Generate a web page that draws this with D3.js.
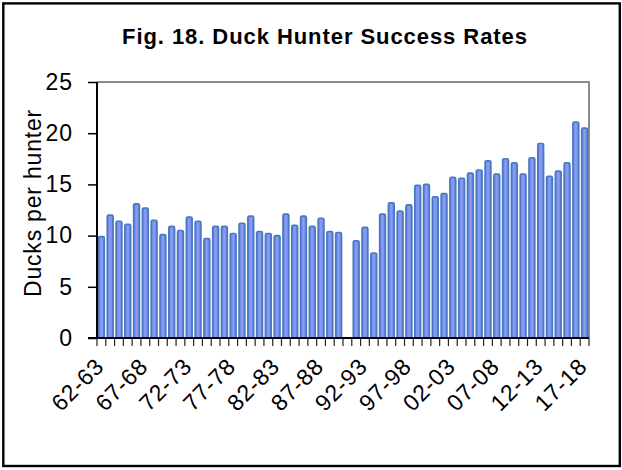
<!DOCTYPE html>
<html>
<head>
<meta charset="utf-8">
<script src="https://cdn.jsdelivr.net/npm/d3@7"></script>
<style>
  html, body { margin: 0; padding: 0; background: #fff; }
  svg { display: block; font-family: Arial, "Liberation Sans", sans-serif; }
</style>
</head>
<body>
<svg id="chart" width="622" height="470"></svg>
<script>
// Duck hunter success rates by season (ducks per hunter); 90-91 has no data.
const seasons = [
  "62-63","63-64","64-65","65-66","66-67","67-68","68-69","69-70","70-71","71-72",
  "72-73","73-74","74-75","75-76","76-77","77-78","78-79","79-80","80-81","81-82",
  "82-83","83-84","84-85","85-86","86-87","87-88","88-89","89-90","90-91","91-92",
  "92-93","93-94","94-95","95-96","96-97","97-98","98-99","99-00","00-01","01-02",
  "02-03","03-04","04-05","05-06","06-07","07-08","08-09","09-10","10-11","11-12",
  "12-13","13-14","14-15","15-16","16-17","17-18"
];
const ducksPerHunter = [
  9.9, 12.0, 11.4, 11.1, 13.1, 12.7, 11.5, 10.1, 10.9, 10.5,
  11.8, 11.4, 9.7, 10.9, 10.9, 10.2, 11.2, 11.9, 10.4, 10.2,
  10.0, 12.1, 11.0, 11.9, 10.9, 11.7, 10.4, 10.3, null, 9.5,
  10.8, 8.3, 12.1, 13.2, 12.4, 13.0, 14.9, 15.0, 13.8, 14.1,
  15.7, 15.6, 16.1, 16.4, 17.3, 16.0, 17.5, 17.1, 16.0, 17.6,
  19.0, 15.8, 16.3, 17.1, 21.1, 20.5
];
const yTicks = [0, 5, 10, 15, 20, 25];
const labelEvery = 5;

const svg = d3.select("#chart");
const plot = { left: 97, right: 589, top: 82, bottom: 338 };

// Frame around the whole figure
svg.append("rect")
  .attr("x", 3.3).attr("y", 3.4).attr("width", 616.5).attr("height", 462.6)
  .attr("fill", "none").attr("stroke", "#000").attr("stroke-width", 2.4);

svg.append("text")
  .attr("x", 324.5).attr("y", 44)
  .attr("text-anchor", "middle")
  .attr("font-size", 22).attr("font-weight", "bold")
  .attr("textLength", 405).attr("lengthAdjust", "spacing")
  .text("Fig. 18. Duck Hunter Success Rates");

const x = d3.scaleBand().domain(seasons)
  .range([plot.left, plot.right]).paddingInner(0.2).paddingOuter(0.1);
const y = d3.scaleLinear().domain([0, 25]).range([plot.bottom, plot.top]);

// Bar shading: darker edges, lighter centre
const defs = svg.append("defs");
const grad = defs.append("linearGradient").attr("id", "barFill")
  .attr("x1", "0%").attr("x2", "100%").attr("y1", "0%").attr("y2", "0%");
grad.append("stop").attr("offset", "0%").attr("stop-color", "#5f7fdc");
grad.append("stop").attr("offset", "50%").attr("stop-color", "#8d9ff8");
grad.append("stop").attr("offset", "100%").attr("stop-color", "#5f7fdc");

// Plot-area outline (top and right in grey)
svg.append("path")
  .attr("d", `M${plot.left},${plot.top}H${plot.right}V${plot.bottom}`)
  .attr("fill", "none").attr("stroke", "#8c8c8c").attr("stroke-width", 2);

const data = seasons.map((s, i) => ({ season: s, value: ducksPerHunter[i] }))
  .filter(d => d.value != null);

svg.append("g").selectAll("rect").data(data).join("rect")
  .attr("x", d => x(d.season) + 0.6)
  .attr("y", d => y(d.value))
  .attr("width", x.bandwidth() - 1.2)
  .attr("height", d => y(0) - y(d.value))
  .attr("rx", 1.5)
  .attr("fill", "url(#barFill)")
  .attr("stroke", "#4878bd").attr("stroke-width", 1.6);

// Y axis
const yAxis = svg.append("g")
  .attr("transform", `translate(${plot.left},0)`)
  .call(d3.axisLeft(y).tickValues(yTicks).tickSize(9).tickPadding(15))
  .call(g => g.select(".domain").attr("stroke", "#000").attr("stroke-width", 2)
    .attr("d", `M0,${plot.top}V${plot.bottom}`));
yAxis.selectAll(".tick line").attr("stroke", "#000").attr("stroke-width", 1.5);
yAxis.selectAll(".tick text")
  .attr("font-size", 23).attr("letter-spacing", "1px")
  .attr("font-family", "Arial, 'Liberation Sans', sans-serif")
  .attr("fill", "#000");

// X axis: tick marks at category boundaries
const boundaries = d3.range(seasons.length + 1)
  .map(i => plot.left + i * (plot.right - plot.left) / seasons.length);
const xg = svg.append("g");
xg.append("line")
  .attr("x1", plot.left - 9).attr("x2", plot.right)
  .attr("y1", plot.bottom).attr("y2", plot.bottom)
  .attr("stroke", "#000").attr("stroke-width", 2);
xg.selectAll("line.tk").data(boundaries).join("line").attr("class", "tk")
  .attr("x1", d => d).attr("x2", d => d)
  .attr("y1", plot.bottom).attr("y2", plot.bottom + 8)
  .attr("stroke", "#222").attr("stroke-width", 1.2);

xg.selectAll("text").data(seasons.filter((s, i) => i % labelEvery === 0)).join("text")
  .attr("transform", d => `translate(${x(d) + x.bandwidth() / 2 + 4},368) rotate(-45)`)
  .attr("text-anchor", "end")
  .attr("font-size", 23).attr("letter-spacing", "0.8px")
  .attr("fill", "#000")
  .text(d => d);

svg.append("text")
  .attr("transform", "translate(41,203) rotate(-90)")
  .attr("text-anchor", "middle")
  .attr("font-size", 23).attr("letter-spacing", "0.8px")
  .attr("fill", "#000")
  .text("Ducks per hunter");
</script>
</body>
</html>
